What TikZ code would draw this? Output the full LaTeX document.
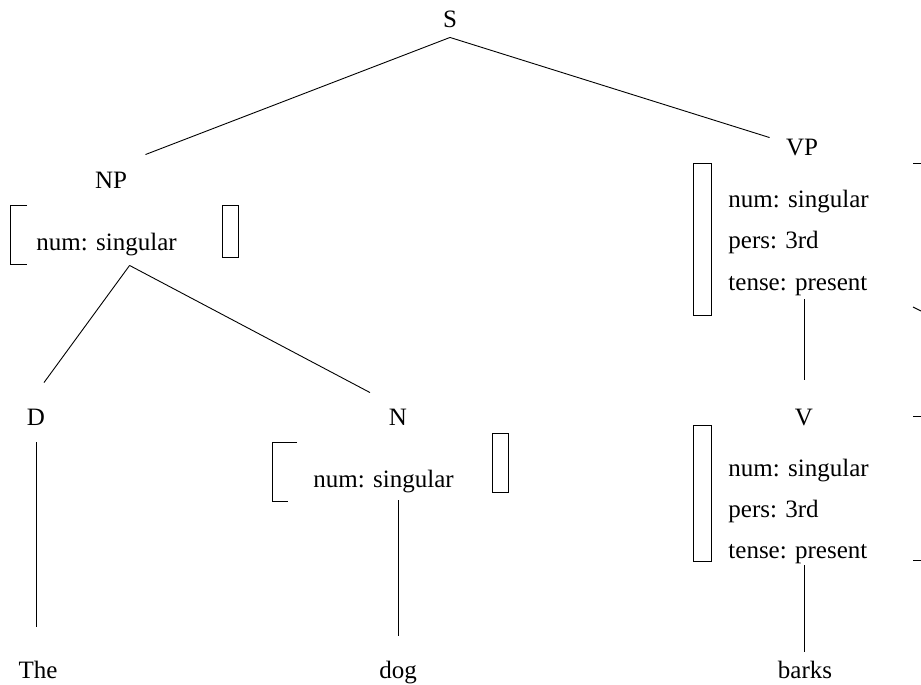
\documentclass[tikz,border=0pt]{standalone}
\usepackage{fontspec}
\setmainfont{Liberation Serif}
\newcommand{\lbl}{\fontsize{25}{30}\selectfont}

\begin{document}
\begin{tikzpicture}[x=1pt,y=-1pt,line width=0.9pt,
  cat/.style={anchor=base,inner sep=0pt,text height=17pt,text depth=5pt,font=\lbl},
  feat/.style={cat,anchor=base west}]
\useasboundingbox (0,0) rectangle (921,685);

% categories
\node[cat] (S) at (450,28) {S};
\node[cat] (NP) at (111,188) {NP};
\node[cat] (VP) at (802,155) {VP};
\node[cat] (D) at (36,425) {D};
\node[cat] (N) at (398,425) {N};
\node[cat] (V) at (804,425) {V};

% words
\node[cat] (The) at (38,678) {The};
\node[cat] (dog) at (398,678) {dog};
\node[cat] (barks) at (805,678) {barks};

% features
\node[feat] (np-num) at (36,250) {num: singular};
\node[feat] (n-num) at (313,487) {num: singular};
\node[feat] (vp-num) at (728,207) {num: singular};
\node[feat] (vp-pers) at (728,248) {pers: 3rd};
\node[feat] (vp-tense) at (728,290) {tense: present};
\node[feat] (v-num) at (728,476) {num: singular};
\node[feat] (v-pers) at (728,517) {pers: 3rd};
\node[feat] (v-tense) at (728,558) {tense: present};

% brackets
\draw (27,205) -- (10,205) -- (10,264) -- (27,264);
\draw (222,205) rectangle (238,257);
\draw (297,442) -- (272,442) -- (272,501) -- (288,501);
\draw (492,433) rectangle (508,492);
\draw (693,163) rectangle (711,315);
\draw (693,425) rectangle (711,561);
% cut off at the right edge
\draw (913,163) -- (921,163);
\draw (913,307) -- (921,311);
\draw (913,416) -- (921,416);
\draw (913,560) -- (921,560);

% branches
\draw ([yshift=-4pt]S.south) -- ([shift={(18pt,16pt)}]NP.north east);
\draw ([yshift=-4pt]S.south) -- ([xshift=-16pt]VP.north west);
\draw ([shift={(23pt,-10pt)}]np-num.south) -- ([shift={(8pt,25pt)}]D.north);
\draw ([shift={(23pt,-10pt)}]np-num.south) -- ([shift={(-28pt,15pt)}]N.north);
\draw ([yshift=-12pt]D.south) -- ([shift={(-2pt,34pt)}]The.north);
\draw ([yshift=-8pt]n-num.south -| dog) -- ([yshift=25pt]dog.north);
\draw ([yshift=-4pt]vp-tense.south -| V) -- ([yshift=28pt]V.north);
\draw ([yshift=-2pt]v-tense.south -| V) -- ([yshift=9pt]barks.north -| V);

\end{tikzpicture}
\end{document}
